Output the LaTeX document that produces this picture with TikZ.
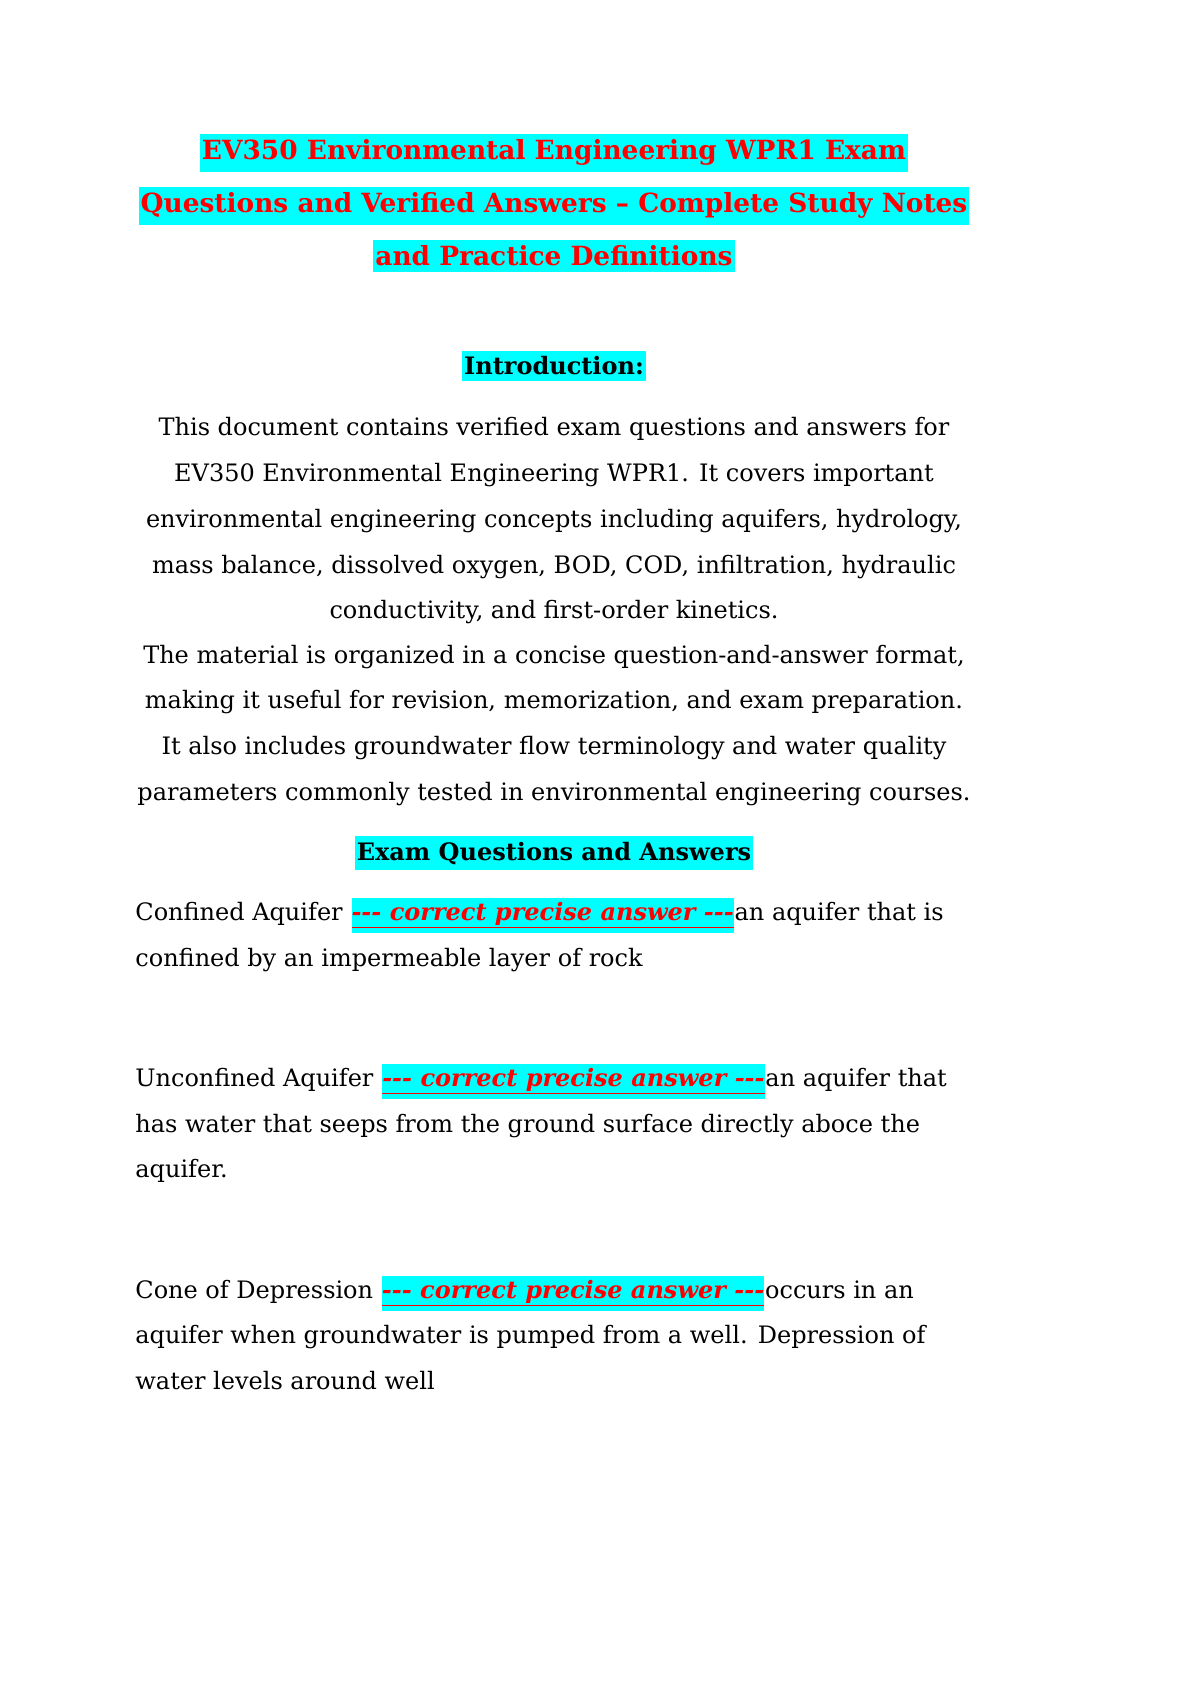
\documentclass[tikz,border=0pt]{standalone}
\usepackage{fontspec}
\setmainfont{DejaVu Serif}
\usetikzlibrary{positioning}
\definecolor{hilite}{RGB}{0,255,255}
\definecolor{titlered}{RGB}{255,0,0}
\newcommand{\ansmark}{\textcolor{titlered}{\bfseries\itshape\underline{{-}{-}{-} correct precise answer {-}{-}{-}}}}
\begin{document}
\begin{tikzpicture}[x=0.5pt,y=0.5pt,
  title line/.style={fill=hilite,text=titlered,font=\fontsize{13.2}{16}\selectfont\bfseries,inner xsep=1pt,inner ysep=3pt,anchor=base},
  head line/.style={fill=hilite,font=\fontsize{12}{14}\selectfont\bfseries,inner xsep=1pt,inner ysep=3pt,anchor=base},
  body line/.style={font=\fontsize{12}{14}\selectfont,inner sep=0pt,anchor=base},
  left line/.style={body line,anchor=base west},
  answer tag/.style={body line,fill=hilite,anchor=base west,inner ysep=2pt}]
  \useasboundingbox[fill=white] (0,0) rectangle (1191,-1684);
  % title
  \node[title line] (t1) at (554,-160) {EV350 Environmental Engineering WPR1 Exam};
  \node[title line] (t2) at (554,-213) {Questions and Verified Answers – Complete Study Notes};
  \node[title line] (t3) at (554,-266) {and Practice Definitions};
  % introduction
  \node[head line] (intro) at (554,-375) {Introduction:};
  \node[body line] (i1) at (554,-436) {This document contains verified exam questions and answers for};
  \node[body line] (i2) at (554,-481) {EV350 Environmental Engineering WPR1. It covers important};
  \node[body line] (i3) at (554,-527) {environmental engineering concepts including aquifers, hydrology,};
  \node[body line] (i4) at (554,-573) {mass balance, dissolved oxygen, BOD, COD, infiltration, hydraulic};
  \node[body line] (i5) at (554,-618) {conductivity, and first-order kinetics.};
  \node[body line] (i6) at (554,-663) {The material is organized in a concise question-and-answer format,};
  \node[body line] (i7) at (554,-708) {making it useful for revision, memorization, and exam preparation.};
  \node[body line] (i8) at (554,-754) {It also includes groundwater flow terminology and water quality};
  \node[body line] (i9) at (554,-800) {parameters commonly tested in environmental engineering courses.};
  % questions
  \node[head line] (qa) at (554,-860) {Exam Questions and Answers};
  \node[left line] (q1) at (135,-920) {Confined Aquifer};
  \node[answer tag] (q1tag) at ([xshift=4pt]q1.base east) {\ansmark};
  \node[left line] (q1end) at (q1tag.base east) {an aquifer that is};
  \node[left line] (q1b) at (135,-966) {confined by an impermeable layer of rock};
  \node[left line] (q2) at (135,-1086) {Unconfined Aquifer};
  \node[answer tag] (q2tag) at ([xshift=4pt]q2.base east) {\ansmark};
  \node[left line] (q2end) at (q2tag.base east) {an aquifer that};
  \node[left line] (q2b) at (135,-1132) {has water that seeps from the ground surface directly aboce the};
  \node[left line] (q2c) at (135,-1177) {aquifer.};
  \node[left line] (q3) at (135,-1298) {Cone of Depression};
  \node[answer tag] (q3tag) at ([xshift=4pt]q3.base east) {\ansmark};
  \node[left line] (q3end) at (q3tag.base east) {occurs in an};
  \node[left line] (q3b) at (135,-1343) {aquifer when groundwater is pumped from a well. Depression of};
  \node[left line] (q3c) at (135,-1389) {water levels around well};
\end{tikzpicture}
\end{document}
